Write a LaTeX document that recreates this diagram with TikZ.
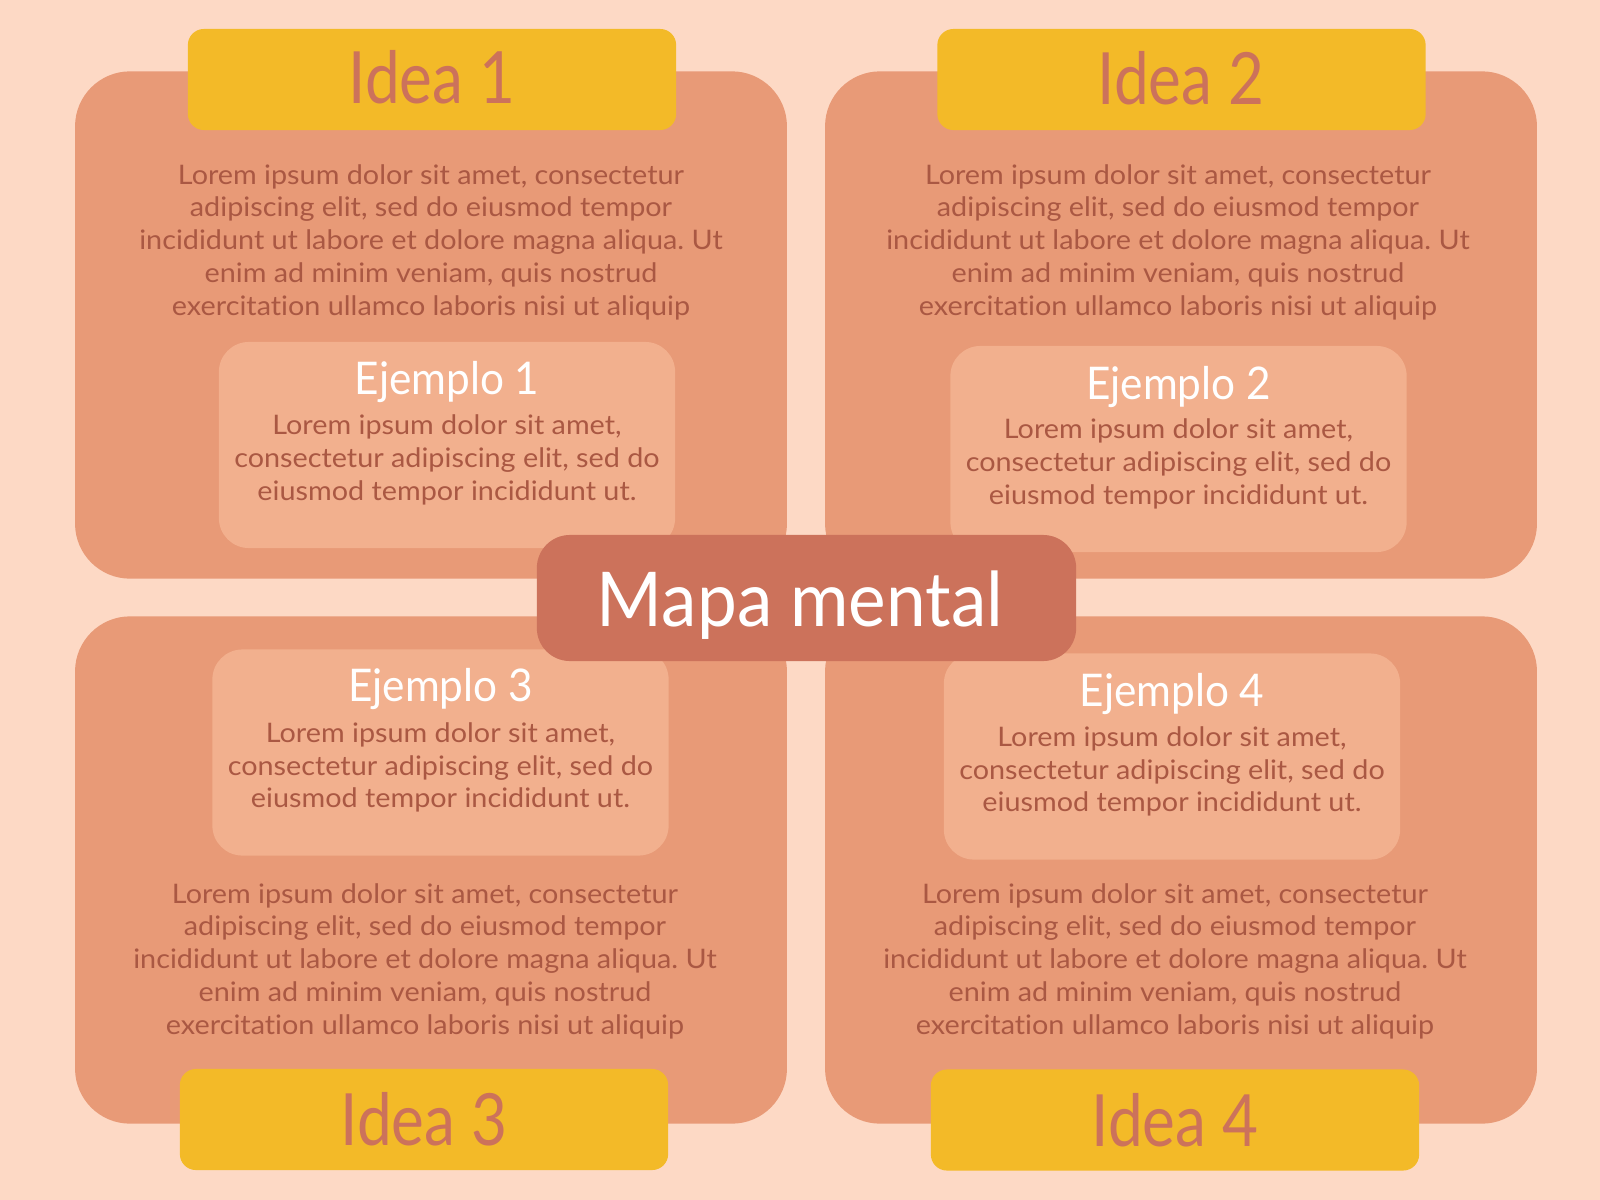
\documentclass[tikz,border=0pt]{standalone}
\usepackage{fontspec}
\setmainfont[FakeStretch=1.07,Ligatures=NoCommon]{Lato}
\newfontfamily\headfont[FakeStretch=0.94]{Lato}
\newfontfamily\ideafont[FakeStretch=0.86]{Lato}
\usetikzlibrary{positioning}
\frenchspacing
\definecolor{fondo}{RGB}{253,217,197}
\definecolor{cajaidea}{RGB}{232,154,119}
\definecolor{amarillo}{RGB}{243,186,40}
\definecolor{cajaej}{RGB}{242,176,142}
\definecolor{rojizo}{RGB}{204,114,91}
\definecolor{marron}{RGB}{170,88,67}
\def\textoidea{Lorem ipsum dolor sit amet, consectetur\\adipiscing elit, sed do eiusmod tempor\\incididunt ut labore et dolore magna aliqua. Ut\\enim ad minim veniam, quis nostrud\\exercitation ullamco laboris nisi ut aliquip}
\def\textoej{Lorem ipsum dolor sit amet,\\consectetur adipiscing elit, sed do\\eiusmod tempor incididunt ut.}
\tikzset{
  bigbox/.style={fill=cajaidea, rounded corners=0.55cm, minimum width=7.115cm, minimum height=5.07cm, inner sep=0pt},
  ideabox/.style={fill=amarillo, rounded corners=0.16cm, minimum width=4.88cm, minimum height=1.01cm, inner sep=0pt},
  ejbox/.style={fill=cajaej, rounded corners=0.3cm, minimum width=4.56cm, minimum height=2.06cm, inner sep=0pt},
  mapbox/.style={fill=rojizo, rounded corners=0.33cm, minimum width=5.39cm, minimum height=1.26cm, inner sep=0pt},
  ideatext/.style={text=rojizo, anchor=base, inner sep=0pt, font=\ideafont\fontsize{20.5}{20.5}\selectfont},
  ejtitle/.style={text=white, anchor=base, inner sep=0pt, font=\headfont\fontsize{12.8}{12.8}\selectfont},
  maptext/.style={text=white, anchor=base, inner sep=0pt, font=\headfont\fontsize{21.5}{21.5}\selectfont},
  bodytext/.style={text=marron, align=center, inner sep=0pt, font=\fontsize{7.65}{9.3}\selectfont}
}
\begin{document}
\begin{tikzpicture}[x=0.01cm,y=-0.01cm]
  % fondo
  \fill[fondo] (0,0) rectangle (1600,1200);
  \useasboundingbox (0,0) rectangle (1600,1200);

  % cajas grandes
  \node[bigbox] (caja1) at (431,325) {};
  \node[bigbox] (caja2) at (1181,325) {};
  \node[bigbox] (caja3) at (431,870) {};
  \node[bigbox] (caja4) at (1181,870) {};

  % titulos de las ideas
  \node[ideabox] (idea1) at (432,79.5) {};
  \node[ideabox] (idea2) at (1181.5,79.5) {};
  \node[ideabox] (idea3) at (424,1119.5) {};
  \node[ideabox] (idea4) at (1175,1120) {};
  \node[ideatext] (idea1txt) at (432,103) {Idea 1};
  \node[ideatext] (idea2txt) at (1181,104) {Idea 2};
  \node[ideatext] (idea3txt) at (424,1145) {Idea 3};
  \node[ideatext] (idea4txt) at (1175,1146) {Idea 4};

  % textos largos
  \node[bodytext] (texto1) at (431,242) {\textoidea};
  \node[bodytext] (texto2) at (1178,242) {\textoidea};
  \node[bodytext] (texto3) at (425,961) {\textoidea};
  \node[bodytext] (texto4) at (1175,961) {\textoidea};

  % ejemplos
  \node[ejbox] (ej1) at (447,445) {};
  \node[ejbox] (ej2) at (1178.5,449) {};
  \node[ejbox] (ej3) at (440.5,752.5) {};
  \node[ejbox] (ej4) at (1172,756.5) {};
  \node[ejtitle] (ej1tit) at (447,394) {Ejemplo 1};
  \node[ejtitle] (ej2tit) at (1178.5,399) {Ejemplo 2};
  \node[ejtitle] (ej3tit) at (440.5,701) {Ejemplo 3};
  \node[ejtitle] (ej4tit) at (1172,706) {Ejemplo 4};
  \node[bodytext] (ej1txt) at (447,460) {\textoej};
  \node[bodytext] (ej2txt) at (1178.5,464) {\textoej};
  \node[bodytext] (ej3txt) at (440.5,767.5) {\textoej};
  \node[bodytext] (ej4txt) at (1172,771.5) {\textoej};

  % centro
  \node[mapbox] (mapa) at (806.5,598) {};
  \node[maptext] (mapatxt) at (800,626) {Mapa mental};
\end{tikzpicture}
\end{document}
